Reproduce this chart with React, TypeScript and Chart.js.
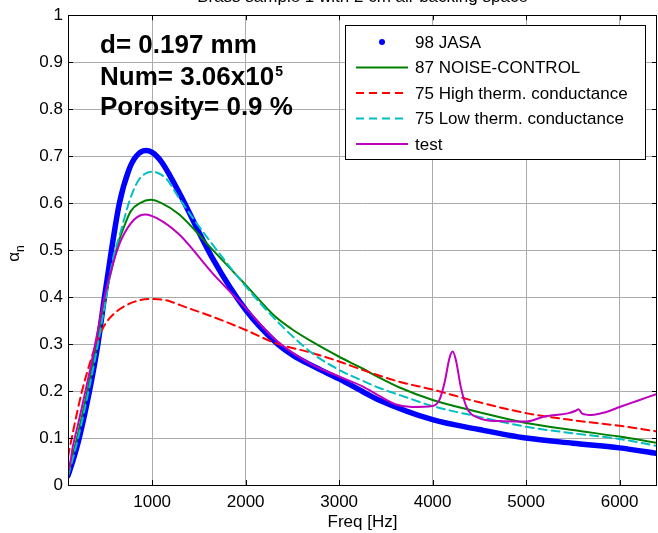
import React, { useEffect, useRef } from 'react';
import { Chart, registerables } from 'chart.js';

Chart.register(...registerables);

const FONT = '"Liberation Sans", Arial, Helvetica, sans-serif';

// ---- texts ----
const titleText = 'Brass sample 1 with 2 cm air backing space';
const xAxisLabel = 'Freq [Hz]';
const seriesNames = ['98 JASA', '87 NOISE-CONTROL', '75 High therm. conductance', '75 Low therm. conductance', 'test'];
const noteD = 'd= 0.197 mm';
const noteNum = 'Num= 3.06x10';
const noteNumExp = '5';
const notePorosity = 'Porosity= 0.9 %';

// ---- axes ----
const xMin = 100;
const xMax = 6400;
const xTickValues = [1000, 2000, 3000, 4000, 5000, 6000];
const yMin = 0;
const yMax = 1;
const yStep = 0.1;

// ---- series: 98 JASA ----
const jasaFreq = [100, 150, 220, 330, 420, 490, 565, 650, 750, 830, 930, 1000, 1100, 1200, 1290, 1645, 2000, 2320, 2500, 2710, 3000, 3250, 3425, 4000, 4500, 5000, 5500, 6000, 6400];
const jasaAlpha = [0.02, 0.05, 0.10, 0.20, 0.30, 0.40, 0.50, 0.60, 0.67, 0.70, 0.712, 0.708, 0.688, 0.655, 0.622, 0.483, 0.373, 0.304, 0.277, 0.254, 0.226, 0.199, 0.181, 0.139, 0.118, 0.100, 0.089, 0.079, 0.067];

// ---- series: 87 NOISE-CONTROL ----
const noiseFreq = [100, 150, 220, 330, 420, 500, 580, 630, 700, 772, 870, 985, 1100, 1290, 1645, 2000, 2320, 2500, 2710, 3000, 3250, 3425, 3640, 4000, 4500, 5000, 5500, 6000, 6400];
const noiseAlpha = [0.02, 0.06, 0.12, 0.22, 0.31, 0.40, 0.47, 0.51, 0.55, 0.583, 0.600, 0.607, 0.600, 0.576, 0.501, 0.426, 0.358, 0.331, 0.305, 0.273, 0.248, 0.229, 0.208, 0.181, 0.155, 0.132, 0.117, 0.103, 0.090];

// ---- series: 75 High therm. conductance ----
const highFreq = [100, 150, 250, 350, 420, 490, 600, 770, 985, 1130, 1380, 1650, 2000, 2320, 2710, 3000, 3250, 3640, 4000, 4500, 5000, 5500, 6000, 6400];
const highAlpha = [0.06, 0.11, 0.20, 0.27, 0.31, 0.34, 0.366, 0.387, 0.396, 0.394, 0.377, 0.358, 0.330, 0.302, 0.281, 0.263, 0.245, 0.220, 0.203, 0.176, 0.153, 0.138, 0.126, 0.114];

// ---- series: 75 Low therm. conductance ----
const lowFreq = [100, 150, 220, 330, 420, 500, 580, 665, 750, 843, 920, 1000, 1100, 1160, 1290, 1645, 2000, 2320, 2710, 3000, 3250, 3425, 3640, 4000, 4500, 5000, 5500, 6000, 6400];
const lowAlpha = [0.02, 0.055, 0.11, 0.21, 0.30, 0.39, 0.48, 0.54, 0.60, 0.645, 0.662, 0.667, 0.66, 0.65, 0.61, 0.512, 0.423, 0.352, 0.281, 0.245, 0.222, 0.207, 0.192, 0.168, 0.145, 0.124, 0.110, 0.098, 0.083];

// ---- series: test ----
const testFreq = [100, 103, 150, 220, 330, 420, 490, 580, 665, 808, 930, 1050, 1290, 1645, 2000, 2320, 2710, 3000, 3250, 3425, 3600, 3780, 4000, 4070, 4130, 4180, 4215, 4250, 4300, 4365, 4490, 4700, 5000, 5200, 5455, 5530, 5560, 5600, 5700, 5850, 6000, 6200, 6400];
const testAlpha = [0.085, 0.03, 0.08, 0.14, 0.24, 0.33, 0.40, 0.47, 0.52, 0.565, 0.576, 0.568, 0.533, 0.451, 0.377, 0.309, 0.256, 0.231, 0.210, 0.190, 0.172, 0.166, 0.168, 0.18, 0.22, 0.27, 0.284, 0.265, 0.21, 0.165, 0.143, 0.136, 0.135, 0.146, 0.153, 0.158, 0.161, 0.152, 0.149, 0.155, 0.166, 0.180, 0.194];

const seriesFreqs = [jasaFreq, noiseFreq, highFreq, lowFreq, testFreq];
const seriesAlphas = [jasaAlpha, noiseAlpha, highAlpha, lowAlpha, testAlpha];

// styles
const seriesStyles = [
  { color: '#0000ff', width: 5.5, dash: [] as number[], dot: true, order: 5 },
  { color: '#008000', width: 2, dash: [] as number[], dot: false, order: 4 },
  { color: '#ff0000', width: 2, dash: [8, 5], dot: false, order: 3 },
  { color: '#00bfbf', width: 2, dash: [8, 5], dot: false, order: 2 },
  { color: '#bf00bf', width: 2, dash: [] as number[], dot: false, order: 1 },
];

const overlayPlugin = {
  id: 'matlabOverlay',
  afterDraw(chart: any) {
    const ctx: CanvasRenderingContext2D = chart.ctx;
    const area = chart.chartArea;
    const xs = chart.scales.x;
    const ys = chart.scales.y;
    ctx.save();

    // axes box
    ctx.strokeStyle = '#000';
    ctx.lineWidth = 1;
    ctx.setLineDash([]);
    ctx.strokeRect(Math.round(area.left) + 0.5, Math.round(area.top) + 0.5, Math.round(area.right - area.left) - 1, Math.round(area.bottom - area.top));

    // inward tick marks
    const tl = 5;
    ctx.beginPath();
    xTickValues.forEach((v) => {
      const px = Math.round(xs.getPixelForValue(v)) + 0.5;
      ctx.moveTo(px, area.bottom);
      ctx.lineTo(px, area.bottom - tl);
      ctx.moveTo(px, area.top);
      ctx.lineTo(px, area.top + tl);
    });
    for (let v = yMin; v <= yMax + 1e-9; v += yStep) {
      const py = Math.round(ys.getPixelForValue(v)) + 0.5;
      ctx.moveTo(area.left, py);
      ctx.lineTo(area.left + tl, py);
      ctx.moveTo(area.right, py);
      ctx.lineTo(area.right - tl, py);
    }
    ctx.stroke();

    // title (partly cut off at top of the image)
    ctx.fillStyle = '#000';
    ctx.font = `17px ${FONT}`;
    ctx.textAlign = 'center';
    ctx.textBaseline = 'alphabetic';
    ctx.fillText(titleText, (area.left + area.right) / 2, 2);

    // x axis label
    ctx.textBaseline = 'middle';
    ctx.fillText(xAxisLabel, (area.left + area.right) / 2, 522);

    // y axis label alpha_n
    ctx.save();
    ctx.translate(19, 252);
    ctx.rotate(-Math.PI / 2);
    ctx.textAlign = 'left';
    ctx.textBaseline = 'alphabetic';
    ctx.font = `17px ${FONT}`;
    const aw = ctx.measureText('\u03b1').width;
    ctx.fillText('\u03b1', -aw, 0);
    ctx.font = `12px ${FONT}`;
    ctx.fillText('n', 0, 5);
    ctx.restore();

    // annotations
    ctx.textAlign = 'left';
    ctx.textBaseline = 'alphabetic';
    ctx.font = `bold 26px ${FONT}`;
    ctx.fillText(noteD, 100, 53);
    ctx.fillText(noteNum, 100, 85);
    const nw = ctx.measureText(noteNum).width;
    ctx.font = `bold 14px ${FONT}`;
    ctx.fillText(noteNumExp, 100 + nw + 1, 76);
    ctx.font = `bold 26px ${FONT}`;
    ctx.fillText(notePorosity, 100, 115);

    // legend
    const lx = 345, ly = 25, lw = 300, lh = 134;
    ctx.fillStyle = '#fff';
    ctx.fillRect(lx, ly, lw, lh);
    ctx.strokeStyle = '#000';
    ctx.lineWidth = 1;
    ctx.strokeRect(lx + 0.5, ly + 0.5, lw, lh);
    ctx.font = `17px ${FONT}`;
    ctx.textBaseline = 'middle';
    seriesNames.forEach((name, i) => {
      const st = seriesStyles[i];
      const y = 42 + i * 25.5;
      if (st.dot) {
        ctx.fillStyle = st.color;
        ctx.beginPath();
        ctx.arc(382, y, 3, 0, Math.PI * 2);
        ctx.fill();
      } else {
        ctx.strokeStyle = st.color;
        ctx.lineWidth = 2;
        ctx.setLineDash(st.dash);
        ctx.beginPath();
        ctx.moveTo(356, y);
        ctx.lineTo(408, y);
        ctx.stroke();
        ctx.setLineDash([]);
      }
      ctx.fillStyle = '#000';
      ctx.fillText(name, 415, y + 1);
    });

    ctx.restore();
  },
};

export default function App() {
  const canvasRef = useRef<HTMLCanvasElement | null>(null);

  useEffect(() => {
    const canvas = canvasRef.current;
    if (!canvas) return;
    const datasets = seriesNames.map((name, i) => ({
      label: name,
      data: seriesFreqs[i].map((f, j) => ({ x: f, y: seriesAlphas[i][j] })),
      borderColor: seriesStyles[i].color,
      backgroundColor: seriesStyles[i].color,
      borderWidth: seriesStyles[i].width,
      borderDash: seriesStyles[i].dash,
      borderCapStyle: 'round' as const,
      borderJoinStyle: 'round' as const,
      pointRadius: 0,
      fill: false,
      cubicInterpolationMode: 'monotone' as const,
      order: seriesStyles[i].order,
    }));

    const chart = new Chart(canvas, {
      type: 'line',
      data: { datasets },
      options: {
        responsive: false,
        animation: false,
        events: [],
        layout: { padding: { top: 15, right: 1, left: 0, bottom: 0 } },
        plugins: {
          legend: { display: false },
          title: { display: false },
          tooltip: { enabled: false },
        },
        scales: {
          x: {
            type: 'linear',
            min: xMin,
            max: xMax,
            afterBuildTicks: (scale: any) => {
              scale.ticks = xTickValues.map((v) => ({ value: v }));
            },
            afterFit: (scale: any) => {
              scale.height = 48;
            },
            border: { display: false },
            grid: { color: '#ababab', lineWidth: 1, drawTicks: false },
            ticks: {
              color: '#000',
              font: { family: FONT, size: 17 },
              padding: 7,
              maxRotation: 0,
              autoSkip: false,
              callback: (v: any) => String(v),
            },
          },
          y: {
            type: 'linear',
            min: yMin,
            max: yMax,
            afterFit: (scale: any) => {
              scale.width = 68;
            },
            border: { display: false },
            grid: { color: '#ababab', lineWidth: 1, drawTicks: false },
            ticks: {
              stepSize: yStep,
              color: '#000',
              font: { family: FONT, size: 17 },
              padding: 5,
              callback: (v: any) => String(Math.round(Number(v) * 10) / 10),
            },
          },
        },
      },
      plugins: [overlayPlugin],
    });

    return () => chart.destroy();
  }, []);

  return (
    <div style={{ position: 'fixed', left: 0, top: 0, width: 658, height: 533, background: '#fff' }}>
      <canvas ref={canvasRef} width={658} height={533} style={{ display: 'block', width: 658, height: 533 }} />
    </div>
  );
}
